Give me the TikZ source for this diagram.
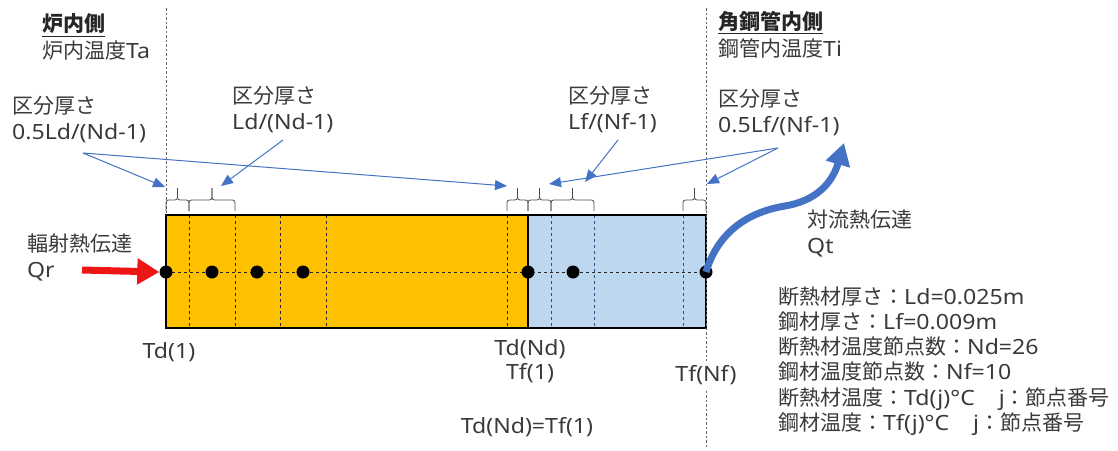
\documentclass[tikz,border=0pt]{standalone}
\usepackage{fontspec}
\setmainfont{Noto Sans CJK JP}
\newfontfamily\lat{Noto Sans}[FakeStretch=1.1]
\usetikzlibrary{arrows.meta}
\definecolor{orng}{HTML}{FFC000}
\definecolor{lblue}{HTML}{BDD7EE}
\definecolor{arblue}{HTML}{4472C4}
\definecolor{txt}{HTML}{3A3A3A}
\definecolor{qred}{HTML}{EE1515}
\definecolor{bdash}{HTML}{2F4F7F}
\newcommand\la[1]{{\lat #1}}
\begin{document}
\begin{tikzpicture}[x=1pt,y=-1pt,
  lbl/.style={inner sep=0pt, text=txt, font=\fontsize{21}{26}\selectfont, align=left, anchor=west},
  head/.style={inner sep=0pt, text=black!85, font=\fontsize{21}{26}\selectfont\bfseries, anchor=west},
  clbl/.style={inner sep=0pt, text=txt, font=\fontsize{21}{24}\selectfont, align=center},
  indash/.style={black!85, line width=1pt, dash pattern=on 3pt off 3pt},
  bindash/.style={bdash, line width=1pt, dash pattern=on 3pt off 3pt},
  sidedash/.style={black!60, line width=0.9pt, dash pattern=on 2.5pt off 2pt},
  boxline/.style={black, line width=1.8pt},
  dot/.style={circle, fill=black, inner sep=0pt, minimum size=13pt},
  bracestroke/.style={black!70, line width=0.8pt, rounded corners=2.5pt},
  thinarrow/.style={arblue, line width=1pt, -{Triangle[length=12pt,width=10pt]}},
]
\useasboundingbox (0,0) rectangle (1118,450);

% layers of the bar
\fill[orng] (166,215) rectangle (528,328);
\fill[lblue] (528,215) rectangle (706,328);
\foreach \x in {189,235,280,326,507} \draw[indash] (\x,215) -- (\x,328);
\foreach \x in {551,594,683} \draw[bindash] (\x,215) -- (\x,328);
\draw[indash] (166,272) -- (706,272);
\draw[boxline] (166,215) rectangle (706,328);
\draw[boxline] (528,215) -- (528,328);

% side boundaries
\draw[sidedash] (166,8) -- (166,215);
\draw[sidedash] (706,8) -- (706,447);

% nodes (dots)
\node[dot] (d1) at (166,272) {};
\node[dot] (d2) at (212,272) {};
\node[dot] (d3) at (257,272) {};
\node[dot] (d4) at (303,272) {};
\node[dot] (d5) at (528,272) {};
\node[dot] (d6) at (573,272) {};
\node[dot] (d7) at (706,272) {};

% braces
\foreach \a/\b in {166/189, 189/235, 507/528, 528/551, 551/594, 683/706}{
  \pgfmathsetmacro\m{(\a+\b)/2}
  \draw[bracestroke] (\a,211) -- (\a,200) -- (\m,200) -- (\m,188);
  \draw[bracestroke] (\m,188) -- (\m,200) -- (\b,200) -- (\b,211);
}

% headings
\node[head] (hL) at (42,24) {炉内側};
\draw[black!85, line width=1.3pt] ([yshift=-2pt]hL.south west) -- ([yshift=-2pt]hL.south east);
\node[lbl] (hLs) at (42,51) {炉内温度\la{Ta}};
\node[head] (hR) at (718,21) {角鋼管内側};
\draw[black!85, line width=1.3pt] ([yshift=-2pt]hR.south west) -- ([yshift=-2pt]hR.south east);
\node[lbl] (hRs) at (718,48) {鋼管内温度\la{Ti}};

% thickness labels
\node[lbl] (l1) at (12,120) {区分厚さ\\\la{0.5Ld/(Nd-1)}};
\node[lbl] (l2) at (232,109.5) {区分厚さ\\\la{Ld/(Nd-1)}};
\node[lbl] (l3) at (568,109.5) {区分厚さ\\\la{Lf/(Nf-1)}};
\node[lbl] (l4) at (718,112.5) {区分厚さ\\\la{0.5Lf/(Nf-1)}};

\coordinate (s1) at (83,153);
\coordinate (s2) at (283,140);
\coordinate (s3) at (618,140);
\coordinate (s4) at (778,148);
\coordinate (t1) at (165,187);
\coordinate (t2) at (507,186);
\coordinate (t3) at (221,186);
\coordinate (t4) at (585,182);
\coordinate (t5) at (549,184);
\coordinate (t6) at (707,184);
\draw[thinarrow] (s1) -- (t1);
\draw[thinarrow] (s1) -- (t2);
\draw[thinarrow] (s2) -- (t3);
\draw[thinarrow] (s3) -- (t4);
\draw[thinarrow] (s4) -- (t5);
\draw[thinarrow] (s4) -- (t6);

% heat transfer
\node[lbl] (qr) at (27,257.5) {輻射熱伝達\\\la{Qr}};
\coordinate (qrs) at (82,270);
\draw[qred, line width=7pt, -{Triangle[length=22pt,width=25pt]}] (qrs) -- (d1.west);
\node[lbl] (qt) at (807,233.5) {対流熱伝達\\\la{Qt}};
\coordinate (qtend) at (844,143);
\draw[arblue, line width=7pt, -{Triangle[length=22pt,width=24pt]}]
  (d7.center) .. controls (718,232) and (748,212) .. (785,206)
  .. controls (815,201) and (832,184) .. (qtend);

% node temperatures
\node[clbl] (td1) at (169,352) {\la{Td(1)}};
\node[clbl] (tdnd) at (530,361) {\la{Td(Nd)}\\\la{Tf(1)}};
\node[clbl, fill=white, inner ysep=4pt] (tfnf) at (706,375) {\la{Tf(Nf)}};
\node[clbl] (eq) at (527,427) {\la{Td(Nd)=Tf(1)}};

% data block
\node[lbl, font=\fontsize{21}{25.2}\selectfont] (data) at (778,361) {%
断熱材厚さ：\la{Ld=0.025m}\\
鋼材厚さ：\la{Lf=0.009m}\\
断熱材温度節点数：\la{Nd=26}\\
鋼材温度節点数：\la{Nf=10}\\
断熱材温度：\la{Td(j)°C}\hspace{24pt}\la{j}：節点番号\\
鋼材温度：\la{Tf(j)°C}\hspace{24pt}\la{j}：節点番号};
\end{tikzpicture}
\end{document}
